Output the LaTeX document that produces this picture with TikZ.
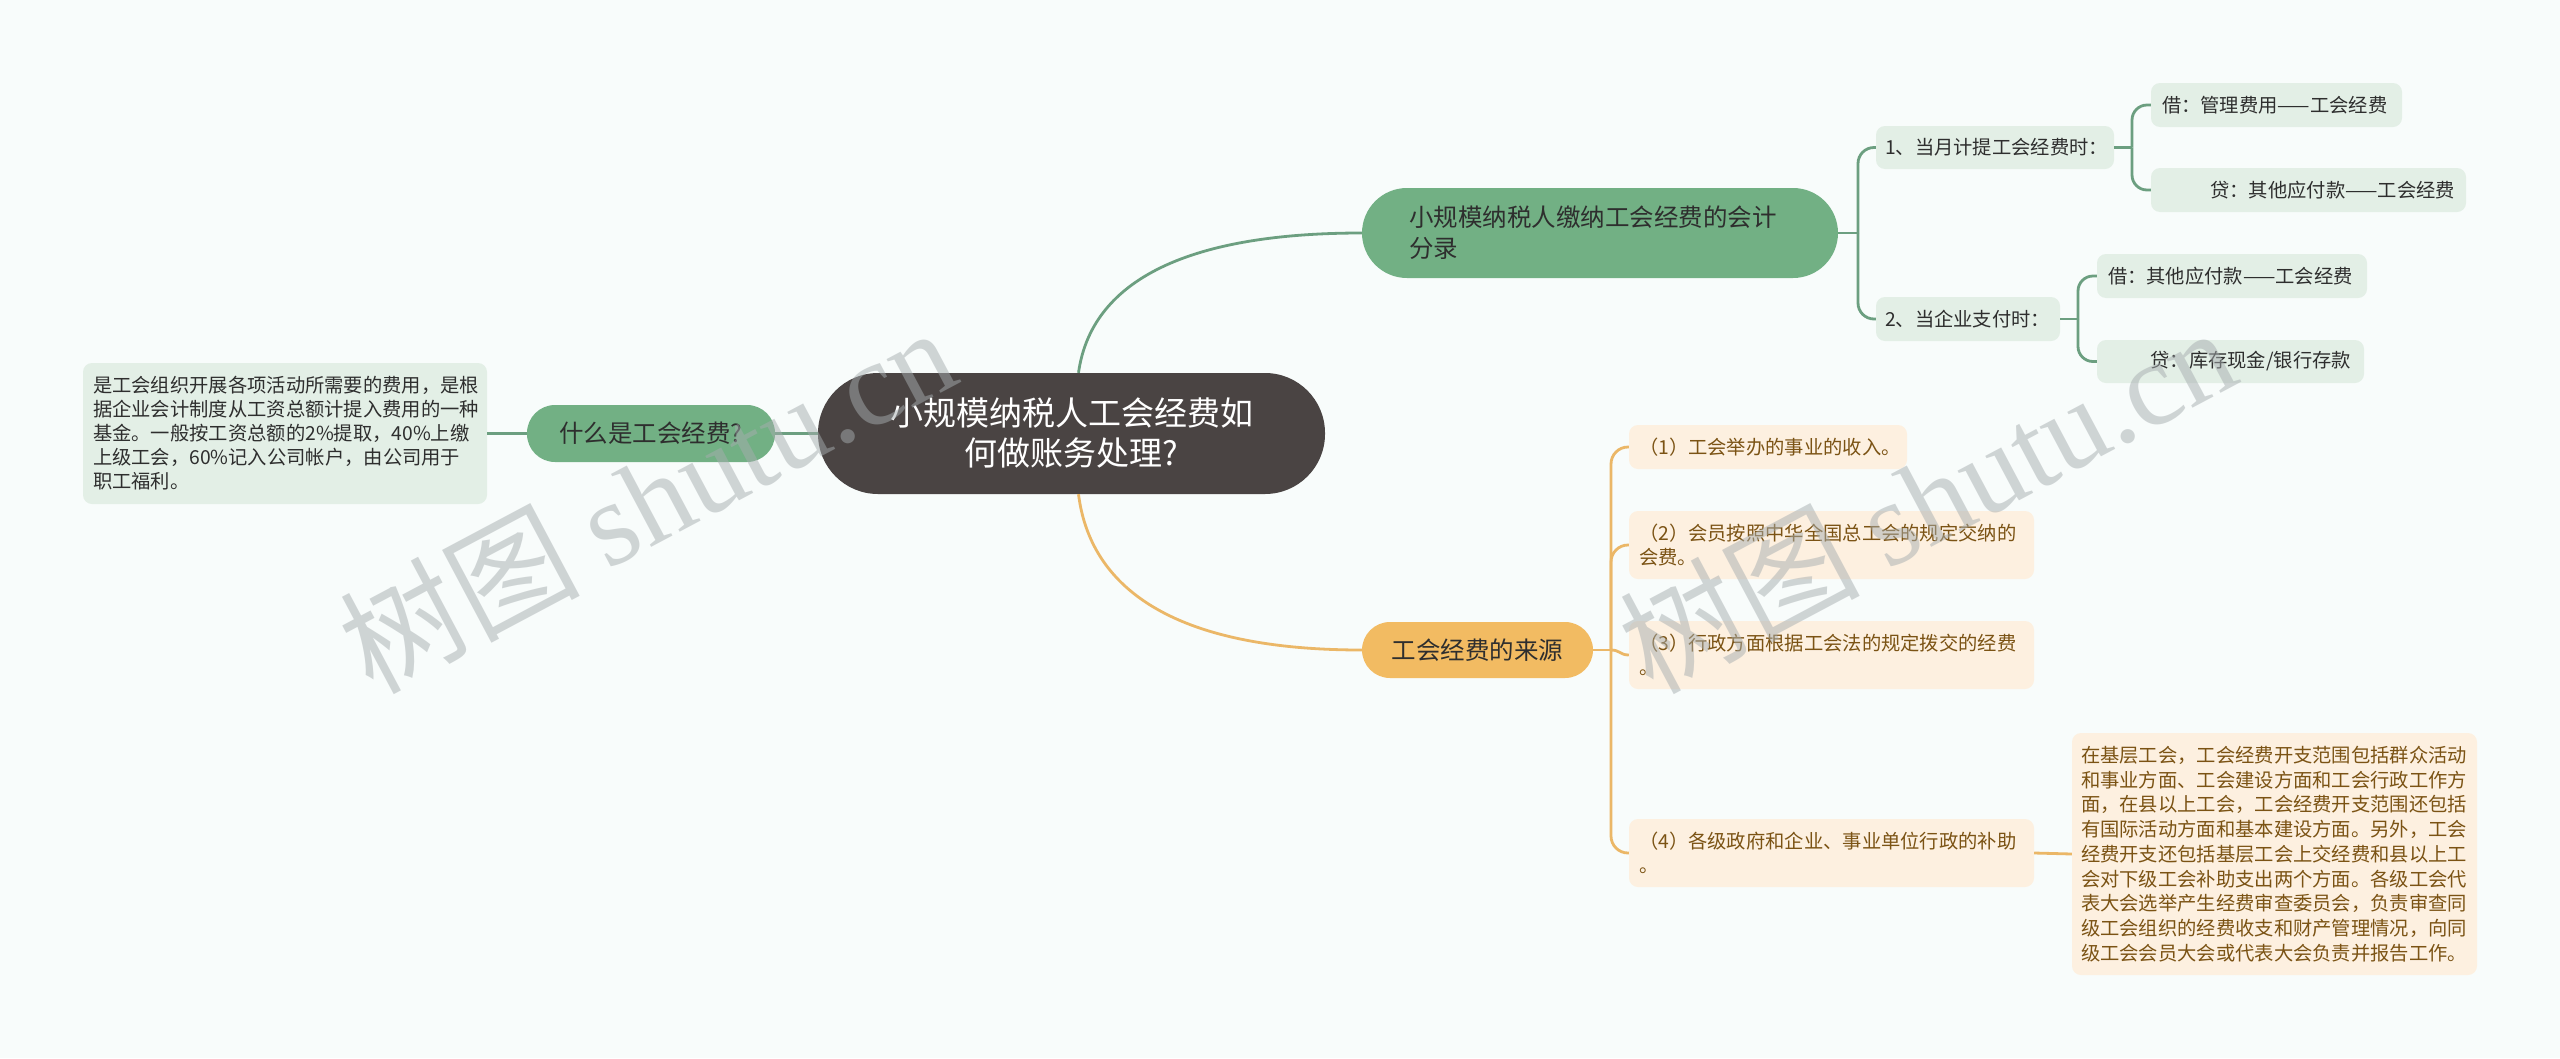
\documentclass[tikz,border=0pt]{standalone}
\usepackage{fontspec}
\setmainfont{Noto Sans CJK SC}
\newfontfamily\wmlatin{Liberation Serif}
\definecolor{bg}{HTML}{F8FCFB}
\definecolor{rootfill}{HTML}{4A4443}
\definecolor{gfill}{HTML}{72B084}
\definecolor{glight}{HTML}{E3EFE6}
\definecolor{gline}{HTML}{6C9F80}
\definecolor{ofill}{HTML}{F2BB62}
\definecolor{oline}{HTML}{EBB767}
\definecolor{plight}{HTML}{FDF0E0}
\definecolor{brown}{HTML}{7B5314}
\definecolor{darktext}{HTML}{2E2E2E}
\definecolor{wmgray}{HTML}{A6ADAF}
\tikzset{
  rootbox/.style={fill=rootfill, text=white, rounded corners=60pt, inner sep=0pt,
    minimum width=507pt, minimum height=121pt, align=center,
    font=\fontsize{33}{40}\selectfont},
  mainbox/.style={fill=gfill, text=darktext, rounded corners=28pt, inner sep=0pt,
    font=\fontsize{24.5}{31}\selectfont},
  orangebox/.style={fill=ofill, text=darktext, rounded corners=28pt, inner sep=0pt,
    font=\fontsize{24.5}{31}\selectfont},
  gleaf/.style={fill=glight, text=darktext, rounded corners=9pt, inner ysep=0pt,
    font=\fontsize{19.3}{24}\selectfont},
  pleaf/.style={fill=plight, text=brown, rounded corners=9pt, inner ysep=0pt,
    font=\fontsize{19.3}{24}\selectfont},
  gconn/.style={draw=gline, line width=2.8pt},
  oconn/.style={draw=oline, line width=2.8pt},
  wmark/.style={text=wmgray, text opacity=0.5, inner sep=0pt,
    font=\fontsize{120}{120}\selectfont},
}
\begin{document}
\begin{tikzpicture}[x=1pt,y=-1pt]
\fill[bg] (0,0) rectangle (2560,1058);
\useasboundingbox (0,0) rectangle (2560,1058);

% root
\node[rootbox] (root) at (1071.5,433.5) {小规模纳税人工会经费如\\何做账务处理?};

% left branch
\node[mainbox, minimum width=248pt, minimum height=57pt] (what) at (651,433.5) {什么是工会经费?};
\node[gleaf, inner xsep=10pt, text width=384pt, minimum height=141pt, align=left] (def) at (285,433.5)
  {是工会组织开展各项活动所需要的费用，是根\\据企业会计制度从工资总额计提入费用的一种\\基金。一般按工资总额的2\%提取，40\%上缴\\上级工会，60\%记入公司帐户，由公司用于\\职工福利。};

% upper right branch
\node[mainbox, rounded corners=45pt, inner xsep=47pt, text width=382pt, minimum height=90pt, align=left] (acct) at (1600,233)
  {小规模纳税人缴纳工会经费的会计\\分录};
\node[gleaf, inner xsep=9pt, text width=220pt, minimum height=43pt, align=left] (s1) at (1995,147.5) {1、当月计提工会经费时：};
\node[gleaf, inner xsep=11pt, text width=229pt, minimum height=44pt, align=left] (s1a) at (2276.5,105) {借：管理费用——工会经费};
\node[gleaf, inner xsep=11pt, text width=293pt, minimum height=44pt, align=right] (s1b) at (2308.5,190) {贷：其他应付款——工会经费};
\node[gleaf, inner xsep=9pt, text width=166pt, minimum height=44pt, align=left] (s2) at (1968,319) {2、当企业支付时：};
\node[gleaf, inner xsep=11pt, text width=248pt, minimum height=44pt, align=left] (s2a) at (2232,276) {借：其他应付款——工会经费};
\node[gleaf, inner xsep=13pt, text width=241pt, minimum height=43pt, align=right] (s2b) at (2230.5,361.5) {贷：库存现金/银行存款};

% lower right branch
\node[orangebox, minimum width=231pt, minimum height=56pt] (src) at (1477.5,650) {工会经费的来源};
\node[pleaf, inner xsep=10pt, text width=258pt, minimum height=44pt, align=left] (r1) at (1768,447) {（1）工会举办的事业的收入。};
\node[pleaf, inner xsep=10pt, text width=385pt, minimum height=68pt, align=left] (r2) at (1831.5,545) {（2）会员按照中华全国总工会的规定交纳的\\会费。};
\node[pleaf, inner xsep=10pt, text width=385pt, minimum height=68pt, align=left] (r3) at (1831.5,655) {（3）行政方面根据工会法的规定拨交的经费\\。};
\node[pleaf, inner xsep=10pt, text width=385pt, minimum height=68pt, align=left] (r4) at (1831.5,853) {（4）各级政府和企业、事业单位行政的补助\\。};
\node[pleaf, inner xsep=9pt, text width=387pt, minimum height=242pt, align=left, font=\fontsize{19.3}{24.75}\selectfont] (r4d) at (2274.5,854)
  {在基层工会，工会经费开支范围包括群众活动\\和事业方面、工会建设方面和工会行政工作方\\面，在县以上工会，工会经费开支范围还包括\\有国际活动方面和基本建设方面。另外，工会\\经费开支还包括基层工会上交经费和县以上工\\会对下级工会补助支出两个方面。各级工会代\\表大会选举产生经费审查委员会，负责审查同\\级工会组织的经费收支和财产管理情况，向同\\级工会会员大会或代表大会负责并报告工作。};

% trunk points
\coordinate (t0) at (1858,233);
\coordinate (t1) at (2132,147.5);
\coordinate (t2) at (2078,319);
\coordinate (t3) at (1611,650);

% connectors
\draw[gconn] (root.west) -- (what.east);
\draw[gconn] (what.west) -- (def.east);
\draw[gconn] ([xshift=7pt]root.north) .. controls (1090,290) and (1170,233) .. (acct.west);
\draw[oconn] ([xshift=7pt]root.south) .. controls (1090,586) and (1170,650) .. (src.west);

\draw[gconn] (acct.east) -- (t0);
\draw[gconn, rounded corners=16pt] (t0) |- (s1.west);
\draw[gconn, rounded corners=16pt] (t0) |- (s2.west);
\draw[gconn] (s1.east) -- (t1);
\draw[gconn, rounded corners=15pt] (t1) |- (s1a.west);
\draw[gconn, rounded corners=15pt] (t1) |- (s1b.west);
\draw[gconn] (s2.east) -- (t2);
\draw[gconn, rounded corners=15pt] (t2) |- (s2a.west);
\draw[gconn, rounded corners=15pt] (t2) |- (s2b.west);

\draw[oconn] (src.east) -- (t3);
\draw[oconn, rounded corners=17pt] (t3) |- (r1.west);
\draw[oconn, rounded corners=17pt] (t3) |- (r2.west);
\draw[oconn] (t3) .. controls (1620,650) and (1620,655) .. (r3.west);
\draw[oconn, rounded corners=17pt] (t3) |- (r4.west);
\draw[oconn] (r4.east) -- (r4d.west);

% watermarks
\node[wmark, rotate=28, anchor=base west] (wm1) at (372,696) {树图 {\wmlatin shutu.cn}};
\node[wmark, rotate=28, anchor=base west] (wm2) at (1652,696) {树图 {\wmlatin shutu.cn}};
\end{tikzpicture}
\end{document}
